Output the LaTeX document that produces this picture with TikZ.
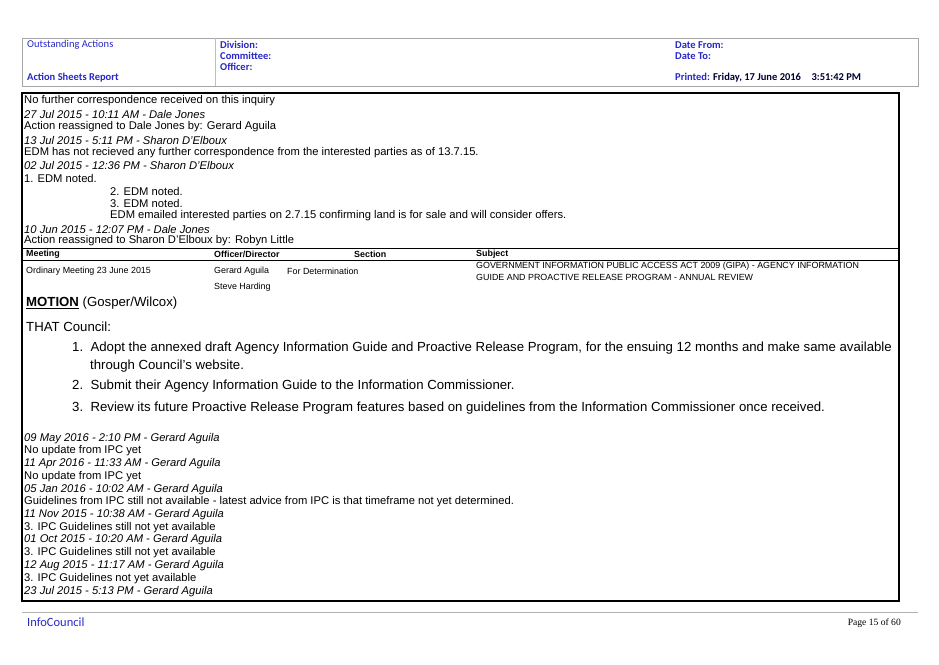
\documentclass[tikz,border=0pt]{standalone}
\usepackage{fontspec}
\setmainfont{Liberation Sans}
\newfontfamily\hdrfont{Carlito}
\definecolor{hdrblue}{RGB}{40,40,200}
\begin{document}
\begin{tikzpicture}[x=1pt,y=-1pt,
    hdr/.style={anchor=west,inner sep=0pt,font=\hdrfont\fontsize{10.5}{12}\selectfont,text=hdrblue},
    hdrb/.style={hdr,font=\hdrfont\bfseries\fontsize{10.5}{12}\selectfont},
    txt/.style={anchor=west,inner sep=0pt,font=\fontsize{11.2}{12}\selectfont},
    stamp/.style={txt,font=\itshape\fontsize{11.2}{12}\selectfont},
    small/.style={anchor=west,inner sep=0pt,font=\fontsize{8.9}{10}\selectfont},
    smallb/.style={small,font=\bfseries\fontsize{8.9}{10}\selectfont},
    big/.style={anchor=west,inner sep=0pt,font=\fontsize{13.2}{15}\selectfont}]
    \useasboundingbox (0,0) rectangle (939,664);
    \fill[white] (0,0) rectangle (939,664);

    % Header
    \draw[gray!70,line width=1pt] (22,38) rectangle (918,86);
    \draw[gray!50] (215,38) -- (215,86);
    \node[hdr] (oa) at (27,45) {Outstanding Actions};
    \node[hdrb] (asr) at (27,78) {Action Sheets Report};
    \node[hdrb] (div) at (220,45) {Division:};
    \node[hdrb] (com) at (220,56) {Committee:};
    \node[hdrb] (off) at (220,67) {Officer:};
    \node[hdrb] (df) at (675,45) {Date From:};
    \node[hdrb] (dt) at (675,56) {Date To:};
    \node[hdr] (pr) at (675,78) {\textbf{Printed:} \textcolor{black!80!blue}{\textbf{Friday, 17 June 2016\quad 3:51:42 PM}}};

    % Body frame
    \draw[line width=1.2pt] (22,93) rectangle (899,601);

    % History
    \node[txt] at (24,101) {No further correspondence received on this inquiry};
    \node[stamp] at (24,114) {27 Jul 2015 - 10:11 AM - Dale Jones};
    \node[txt] at (24,127) {Action reassigned to Dale Jones by: Gerard Aguila};
    \node[stamp] at (24,140) {13 Jul 2015 - 5:11 PM - Sharon D'Elboux};
    \node[txt] at (24,153) {EDM has not recieved any further correspondence from the interested parties as of 13.7.15.};
    \node[stamp] at (24,165) {02 Jul 2015 - 12:36 PM - Sharon D'Elboux};
    \node[txt] at (24,178) {1. EDM noted.};
    \node[txt] at (110,191) {2. EDM noted.};
    \node[txt] at (110,203) {3. EDM noted.};
    \node[txt] at (110,216) {EDM emailed interested parties on 2.7.15 confirming land is for sale and will consider offers.};
    \node[stamp] at (24,229) {10 Jun 2015 - 12:07 PM - Dale Jones};
    \node[txt] at (24,241) {Action reassigned to Sharon D'Elboux by: Robyn Little};

    % Table
    \draw[line width=1pt] (22,248) -- (899,248);
    \draw[line width=1pt] (22,260) -- (899,260);
    \node[smallb] (mt) at (26,254) {Meeting};
    \node[smallb] (od) at (214,254) {Officer/Director};
    \node[smallb] (sc) at (354,254) {Section};
    \node[smallb] (sb) at (476,254) {Subject};
    \node[small] at (26,271) {Ordinary Meeting 23 June 2015};
    \node[small] at (214,271) {Gerard Aguila};
    \node[small] at (287,271) {For Determination};
    \node[small] at (476,266) {GOVERNMENT INFORMATION PUBLIC ACCESS ACT 2009 (GIPA) - AGENCY INFORMATION};
    \node[small] at (476,277) {GUIDE AND PROACTIVE RELEASE PROGRAM - ANNUAL REVIEW};
    \node[small] at (214,287) {Steve Harding};

    % Motion
    \node[big] at (26,303) {\textbf{\underline{MOTION}} (Gosper/Wilcox)};
    \node[big] at (26,327) {THAT Council:};
    \node[big] at (72,348) {1.\ \ Adopt the annexed draft Agency Information Guide and Proactive Release Program, for the ensuing 12 months and make same available};
    \node[big] at (90,366) {through Council's website.};
    \node[big] at (72,386) {2.\ \ Submit their Agency Information Guide to the Information Commissioner.};
    \node[big] at (72,408) {3.\ \ Review its future Proactive Release Program features based on guidelines from the Information Commissioner once received.};

    % Updates
    \foreach \y/\s/\t in {
      439/stamp/{09 May 2016 - 2:10 PM - Gerard Aguila},
      451/txt/{No update from IPC yet},
      464/stamp/{11 Apr 2016 - 11:33 AM - Gerard Aguila},
      477/txt/{No update from IPC yet},
      490/stamp/{05 Jan 2016 - 10:02 AM - Gerard Aguila},
      502/txt/{Guidelines from IPC still not available - latest advice from IPC is that timeframe not yet determined.},
      515/stamp/{11 Nov 2015 - 10:38 AM - Gerard Aguila},
      528/txt/{3. IPC Guidelines still not yet available},
      540/stamp/{01 Oct 2015 - 10:20 AM - Gerard Aguila},
      553/txt/{3. IPC Guidelines still not yet available},
      566/stamp/{12 Aug 2015 - 11:17 AM - Gerard Aguila},
      579/txt/{3. IPC Guidelines not yet available},
      592/stamp/{23 Jul 2015 - 5:13 PM - Gerard Aguila}}
      \node[\s] at (24,\y) {\t};

    % Footer
    \draw[gray!60,line width=0.8pt] (22,612) -- (918,612);
    \node[hdr,font=\hdrfont\fontsize{12.5}{14}\selectfont] (ic) at (27,622) {InfoCouncil};
    \node[anchor=east,inner sep=0pt,font=\fontsize{9.6}{11}\selectfont] (pg) at (901,623) {\fontspec{Liberation Serif}Page 15 of 60};
\end{tikzpicture}
\end{document}
